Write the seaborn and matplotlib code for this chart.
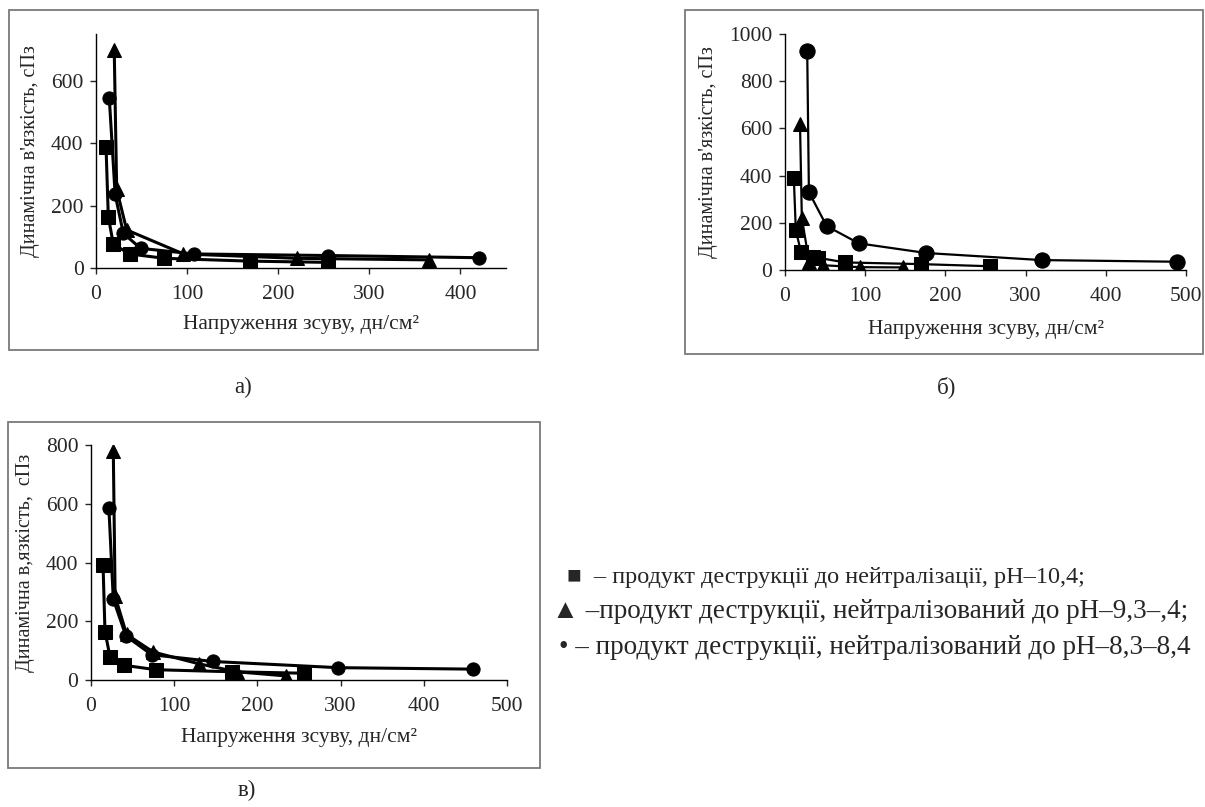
import matplotlib
matplotlib.use("Agg")
import matplotlib.pyplot as plt
from matplotlib.patches import Rectangle
import seaborn as sns

W, H = 1205, 807

# --- panel а) ---
a_sq_x = [11, 13.5, 19, 37, 75, 169, 255]
a_sq_y = [389, 165, 76, 45, 31, 22, 18]
a_tr_x = [20, 22.7, 33.7, 96, 221, 366]
a_tr_y = [700, 252, 122, 45, 31, 26]
a_ci_x = [14.6, 21, 30, 49, 107.6, 255, 420]
a_ci_y = [544, 236, 111, 63, 45, 40, 33]

# --- panel б) ---
b_sq_x = [11, 13.5, 20, 35, 41, 75, 169, 255]
b_sq_y = [390, 168, 76, 55, 52, 32, 25, 16]
b_tr_x = [18.7, 21, 30, 48, 93, 147]
b_tr_y = [620, 220, 36, 20, 12, 11]
b_ci_x = [27.7, 29.8, 52, 92, 176, 320, 489]
b_ci_y = [928, 330, 186, 113, 72, 42, 35]

# --- panel в) ---
c_sq_x = [14.5, 16.8, 22.8, 40, 78, 170, 256]
c_sq_y = [390, 165, 80, 50, 35, 28, 23]
c_tr_x = [26.8, 29, 42.8, 75, 130, 175, 234]
c_tr_y = [780, 285, 155, 95, 55, 28, 14]
c_ci_x = [21.5, 26.8, 42, 73, 146.6, 297, 459.5]
c_ci_y = [585, 275, 150, 86, 63, 42, 37]

x_label = "Напруження зсуву, дн/см²"
y_labels = ["Динамічна в'язкість, сПз", "Динамічна в'язкість, сПз", "Динамічна в,язкість,  сПз"]
panel_names = ["а)", "б)", "в)"]
legend_lines = [
    "■  – продукт деструкції до нейтралізації, рН–10,4;",
    "▲ –продукт деструкції, нейтралізований до рН–9,3–,4;",
    "• – продукт деструкції, нейтралізований до рН–8,3–8,4",
]

sns.set_style("white")
serif = ["Liberation Serif", "DejaVu Serif", "DejaVu Sans"]
plt.rcParams["font.family"] = serif

fig = plt.figure(figsize=(W / 100, H / 100), dpi=100)


def px_axes(left, top, right, bottom):
    return fig.add_axes([left / W, 1 - bottom / H, (right - left) / W, (bottom - top) / H])


def frame(x0, y0, x1, y1):
    fig.patches.append(Rectangle((x0 / W, 1 - y1 / H), (x1 - x0) / W, (y1 - y0) / H,
                                 transform=fig.transFigure, fill=False,
                                 edgecolor="#7a7a7a", linewidth=1.3))


def draw_panel(ax, series, xmax, ymax, yticks, ylab, lw, xlpad):
    for xs, ys, mk, size in series:
        sns.lineplot(x=xs, y=ys, ax=ax, color="black", linewidth=lw, marker=mk,
                     markersize=size, markeredgecolor="black", estimator=None, sort=False)
    ax.set_xlim(0, xmax)
    ax.set_ylim(0, ymax)
    ax.set_xticks(range(0, xmax + 1, 100))
    ax.set_yticks(yticks)
    ax.patch.set_alpha(0)
    for s in ["top", "right"]:
        ax.spines[s].set_visible(False)
    for s in ["left", "bottom"]:
        ax.spines[s].set_color("black")
        ax.spines[s].set_linewidth(1.0)
    ax.tick_params(axis="both", direction="out", length=4, width=1, labelsize=15.5,
                   left=True, bottom=True)
    ax.tick_params(axis="x", pad=8)
    ax.tick_params(axis="y", pad=5)
    ax.set_xlabel(x_label, fontsize=15.5, labelpad=xlpad)
    ax.set_ylabel(ylab, fontsize=14.5, labelpad=8)


frame(9, 10, 538, 350)
frame(685, 10, 1203, 354)
frame(8, 422, 540, 768)

ax_a = px_axes(96, 34, 506, 268)
draw_panel(ax_a, [(a_sq_x, a_sq_y, "s", 9.5), (a_tr_x, a_tr_y, "^", 10), (a_ci_x, a_ci_y, "o", 9.5)],
           450, 750, [0, 200, 400, 600], y_labels[0], 2.2, 8)

ax_b = px_axes(785, 34, 1186, 270)
draw_panel(ax_b, [(b_sq_x, b_sq_y, "s", 10), (b_tr_x, b_tr_y, "^", 10), (b_ci_x, b_ci_y, "o", 11)],
           500, 1000, [0, 200, 400, 600, 800, 1000], y_labels[1], 1.6, 10)

ax_c = px_axes(91, 445, 507, 680)
draw_panel(ax_c, [(c_sq_x, c_sq_y, "s", 9.5), (c_tr_x, c_tr_y, "^", 10), (c_ci_x, c_ci_y, "o", 9.5)],
           500, 800, [0, 200, 400, 600, 800], y_labels[2], 2.2, 9)

fig.text(243 / W, 1 - 387 / H, panel_names[0], ha="center", va="center", fontsize=16.5)
fig.text(947 / W, 1 - 387 / H, panel_names[1], ha="center", va="center", fontsize=16.5)
fig.text(247 / W, 1 - 790 / H, panel_names[2], ha="center", va="center", fontsize=16.5)

legend_pos = [(567, 577), (552, 612), (559, 648)]
legend_size = [17.5, 19.5, 19.5]
for (x, y), size, line in zip(legend_pos, legend_size, legend_lines):
    fig.text(x / W, 1 - y / H, line, ha="left", va="center", fontsize=size, family=serif)

fig.savefig("out.png", dpi=100)
